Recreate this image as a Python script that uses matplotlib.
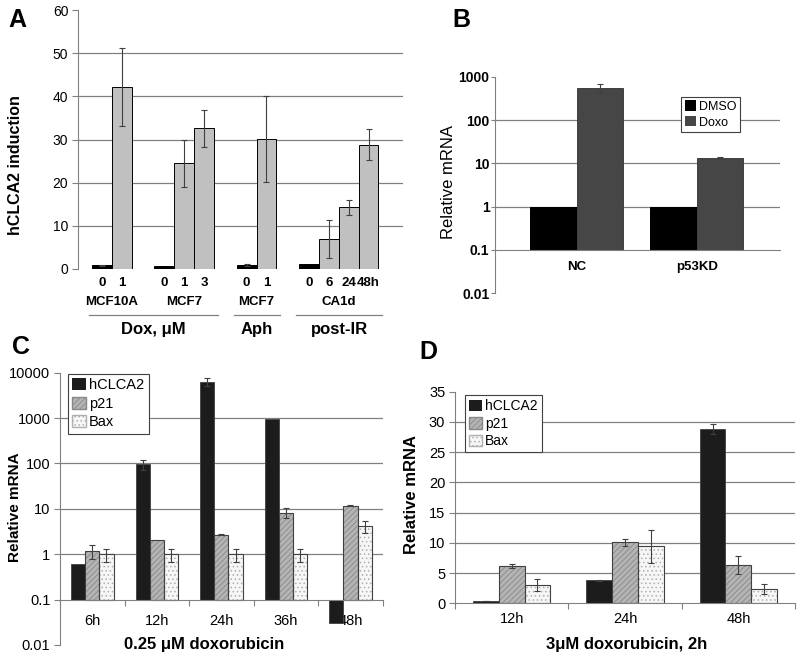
import matplotlib
matplotlib.use('Agg')
import matplotlib.pyplot as plt
import matplotlib.transforms as mtransforms
from matplotlib.patches import Patch
from matplotlib.ticker import NullLocator
import numpy as np

plt.rcParams['font.family'] = ['Liberation Sans', 'DejaVu Sans']
plt.rcParams['hatch.linewidth'] = 0.6

# ----- Panel A: hCLCA2 induction -----
a_groups = ['MCF10A', 'MCF7', 'MCF7', 'CA1d']
a_group_sizes = [2, 3, 2, 4]
a_ticks = ['0', '1', '0', '1', '3', '0', '1', '0', '6', '24', '48h']
a_values = [0.9, 42.1, 0.8, 24.5, 32.6, 0.9, 30.1, 1.1, 7.0, 14.3, 28.8]
a_errors = [0.1, 9.0, 0.0, 5.5, 4.3, 0.2, 10.0, 0.0, 4.4, 1.7, 3.6]
a_treatments = ['Dox, μM', 'Aph', 'post-IR']
a_treatment_groups = [[0, 1], [2], [3]]

# ----- Panel B: NC vs p53KD -----
b_categories = ['NC', 'p53KD']
b_dmso = [1.0, 1.0]
b_doxo = [550, 13.5]
b_doxo_err = [125, 0.8]

# ----- Panel C: 0.25 uM doxorubicin time course -----
c_times = ['6h', '12h', '24h', '36h', '48h']
c_hclca2 = [0.6, 97, 6300, 950, 0.03]
c_hclca2_err = [0, 25, 1200, 0, 0]
c_p21 = [1.2, 2.1, 2.7, 8.3, 11.8]
c_p21_err = [0.4, 0, 0.05, 2.1, 0.5]
c_bax = [1.0, 1.0, 1.0, 1.0, 4.1]
c_bax_err = [0.33, 0.33, 0.33, 0.33, 1.2]

# ----- Panel D: 3 uM doxorubicin, 2h -----
d_times = ['12h', '24h', '48h']
d_hclca2 = [0.4, 3.8, 28.8]
d_hclca2_err = [0.05, 0.1, 0.8]
d_p21 = [6.2, 10.1, 6.4]
d_p21_err = [0.3, 0.6, 1.5]
d_bax = [3.0, 9.4, 2.4]
d_bax_err = [1.0, 2.7, 0.8]

W, H = 800, 660
GRID = '#808080'
EDGE = '#404040'
HCLCA2_COL = '#1c1c1c'
P21_COL = '#b4b4b4'
BAX_COL = '#f6f6f6'

fig = plt.figure(figsize=(8, 6.6), dpi=100)


def px_axes(x0, y0, x1, y1):
    return fig.add_axes([x0 / W, 1 - y1 / H, (x1 - x0) / W, (y1 - y0) / H])


def figtext(x, y, s, **kw):
    fig.text(x / W, 1 - y / H, s, ha='center', va='center', **kw)


def hatched_bars(ax, x, heights, width, bottom, face, hatch, hatch_col):
    ax.bar(x, heights, width, bottom=bottom, color=face, hatch=hatch,
           edgecolor=hatch_col, linewidth=0, zorder=2)
    ax.bar(x, heights, width, bottom=bottom, fill=False,
           edgecolor=EDGE, linewidth=0.8, zorder=2.1)


def err(ax, x, y, e):
    x = np.asarray(x, float); y = np.asarray(y, float); e = np.asarray(e, float)
    m = e > 0
    ax.errorbar(x[m], y[m], yerr=e[m], fmt='none', ecolor=EDGE,
                elinewidth=0.8, capsize=2, capthick=0.8, zorder=3)


def style_axes(ax, grid_vals):
    for s in ['top', 'right']:
        ax.spines[s].set_visible(False)
    ax.spines['left'].set_color(GRID)
    ax.spines['bottom'].set_color(GRID)
    for v in grid_vals:
        ax.axhline(v, color=GRID, lw=0.9, zorder=1)
    ax.tick_params(axis='y', colors=GRID, length=4, width=0.8)
    ax.tick_params(axis='y', labelcolor='black')


def legend(ax, handles, labels, x, y, size, spacing=0.2):
    ax.legend(handles, labels, loc='upper left',
              bbox_to_anchor=(x / W, 1 - y / H), bbox_transform=fig.transFigure,
              fontsize=size, handlelength=0.9, handleheight=0.9,
              handletextpad=0.25, borderpad=0.3, labelspacing=spacing,
              borderaxespad=0, fancybox=False, framealpha=1,
              edgecolor=EDGE).get_frame().set_linewidth(0.8)


''' ----- Panel A ----- '''
axA = px_axes(78, 10, 403, 269)
pos = []
firsts = []
start = 1.21
for n in a_group_sizes:
    firsts.append(len(pos))
    for k in range(n):
        pos.append(start + k)
    start += n + 1.15
cols = ['black' if i in firsts else '#c0c0c0' for i in range(len(pos))]
axA.bar(pos, a_values, 1.0, color=cols, edgecolor='black', linewidth=0.7, zorder=2)
err(axA, pos, a_values, a_errors)
style_axes(axA, [10, 20, 30, 40, 50])
axA.spines['bottom'].set_visible(False)
axA.set_xlim(0, 16.4)
axA.set_ylim(0, 60)
axA.set_yticks(range(0, 70, 10))
axA.tick_params(axis='y', labelsize=10, pad=3)
axA.set_xticks(pos)
axA.set_xticklabels(a_ticks, fontsize=9.5, fontweight='bold')
axA.tick_params(axis='x', length=0, pad=6)

trans = mtransforms.blended_transform_factory(axA.transData, axA.transAxes)
idx = 0
group_edges = []
for name, n in zip(a_groups, a_group_sizes):
    g = pos[idx:idx + n]
    axA.text(np.mean(g), -0.128, name, transform=trans, ha='center', va='center',
             fontsize=9.5, fontweight='bold')
    group_edges.append((g[0] - 0.5, g[-1] + 0.5))
    idx += n
for label, gs in zip(a_treatments, a_treatment_groups):
    x0 = group_edges[gs[0]][0] - 0.15
    x1 = group_edges[gs[-1]][1] + 0.2
    axA.plot([x0, x1], [-0.178, -0.178], transform=trans, color=GRID, lw=0.9, clip_on=False)
    axA.text((x0 + x1) / 2, -0.232, label, transform=trans, ha='center', va='center',
             fontsize=12, fontweight='bold')

figtext(16, 165, 'hCLCA2 induction', rotation=90, fontsize=11.5, fontweight='bold')
figtext(17.5, 20, 'A', fontsize=18, fontweight='bold')

''' ----- Panel B ----- '''
axB = px_axes(495, 76.7, 780, 293.3)
axB.set_yscale('log')
xb = np.arange(len(b_categories))
wb = 0.389
axB.bar(xb - wb / 2, np.array(b_dmso) - 0.1, wb, bottom=0.1, color='black', zorder=2)
axB.bar(xb + wb / 2, np.array(b_doxo) - 0.1, wb, bottom=0.1, color='#464646',
        edgecolor='#303030', linewidth=0.6, zorder=2)
err(axB, xb + wb / 2, b_doxo, b_doxo_err)
style_axes(axB, [1, 10, 100])
axB.spines['bottom'].set_position(('data', 0.1))
axB.set_ylim(0.01, 1000)
axB.set_xlim(-0.681, 1.694)
axB.set_yticks([0.01, 0.1, 1, 10, 100, 1000])
axB.set_yticklabels(['0.01', '0.1', '1', '10', '100', '1000'], fontsize=10, fontweight='bold')
axB.yaxis.set_minor_locator(NullLocator())
axB.tick_params(axis='y', length=3, pad=1)
axB.set_xticks(xb)
axB.set_xticklabels(b_categories, fontsize=9.5, fontweight='bold')
axB.tick_params(axis='x', length=0, pad=8)
legend(axB, [Patch(facecolor='black'), Patch(facecolor='#464646')], ['DMSO', 'Doxo'],
       681, 96.7, 9, spacing=0.25)
figtext(448, 182, 'Relative mRNA', rotation=90, fontsize=12)
figtext(461, 20, 'B', fontsize=18, fontweight='bold')

''' ----- Panel C ----- '''
axC = px_axes(60, 372.7, 382.7, 645)
axC.set_yscale('log')
xc = np.arange(len(c_times))
wc = 0.22
axC.bar(xc - wc, np.array(c_hclca2) - 0.1, wc, bottom=0.1, color=HCLCA2_COL,
        edgecolor=EDGE, linewidth=0.6, zorder=2)
hatched_bars(axC, xc, np.array(c_p21) - 0.1, wc, 0.1, P21_COL, '//////', '#888888')
hatched_bars(axC, xc + wc, np.array(c_bax) - 0.1, wc, 0.1, BAX_COL, '....', '#b0b0b0')
err(axC, xc - wc, c_hclca2, c_hclca2_err)
err(axC, xc, c_p21, c_p21_err)
err(axC, xc + wc, c_bax, c_bax_err)
style_axes(axC, [1, 10, 100, 1000])
axC.spines['bottom'].set_position(('data', 0.1))
axC.set_ylim(0.01, 10000)
axC.set_xlim(-0.5, len(c_times) - 0.5)
axC.set_yticks([0.01, 0.1, 1, 10, 100, 1000, 10000])
axC.set_yticklabels(['0.01', '0.1', '1', '10', '100', '1000', '10000'], fontsize=10.5)
axC.yaxis.set_minor_locator(NullLocator())
axC.tick_params(axis='y', pad=3)
axC.set_xticks(xc)
axC.set_xticklabels(c_times, fontsize=10.5)
axC.set_xticks(np.arange(len(c_times) + 1) - 0.5, minor=True)
axC.tick_params(axis='x', which='major', length=0, pad=10)
axC.tick_params(axis='x', which='minor', length=4, color=GRID, width=0.8)
legend(axC, [Patch(facecolor=HCLCA2_COL),
             Patch(facecolor=P21_COL, hatch='//////', edgecolor='#888888'),
             Patch(facecolor=BAX_COL, hatch='....', edgecolor='#b0b0b0')],
       ['hCLCA2', 'p21', 'Bax'], 68, 374, 10.5, spacing=0.3)
figtext(15, 507, 'Relative mRNA', rotation=90, fontsize=11, fontweight='bold')
figtext(204, 645, '0.25 μM doxorubicin', fontsize=12, fontweight='bold')
figtext(21, 347, 'C', fontsize=18, fontweight='bold')

''' ----- Panel D ----- '''
axD = px_axes(455, 391.7, 795, 603.3)
xd = np.arange(len(d_times))
wd = 0.227
axD.bar(xd - wd, d_hclca2, wd, color=HCLCA2_COL, edgecolor=EDGE, linewidth=0.6, zorder=2)
hatched_bars(axD, xd, d_p21, wd, 0, P21_COL, '//////', '#888888')
hatched_bars(axD, xd + wd, d_bax, wd, 0, BAX_COL, '....', '#b0b0b0')
err(axD, xd - wd, d_hclca2, d_hclca2_err)
err(axD, xd, d_p21, d_p21_err)
err(axD, xd + wd, d_bax, d_bax_err)
style_axes(axD, [5, 10, 15, 20, 25, 30])
axD.set_ylim(0, 35)
axD.set_xlim(-0.5, len(d_times) - 0.5)
axD.set_yticks(range(0, 40, 5))
axD.tick_params(axis='y', labelsize=10.5, pad=3)
axD.set_xticks(xd)
axD.set_xticklabels(d_times, fontsize=10.5)
axD.set_xticks(np.arange(len(d_times) + 1) - 0.5, minor=True)
axD.tick_params(axis='x', which='major', length=0, pad=6)
axD.tick_params(axis='x', which='minor', length=4, color=GRID, width=0.8)
legend(axD, [Patch(facecolor=HCLCA2_COL),
             Patch(facecolor=P21_COL, hatch='//////', edgecolor='#888888'),
             Patch(facecolor=BAX_COL, hatch='....', edgecolor='#b0b0b0')],
       ['hCLCA2', 'p21', 'Bax'], 465, 395, 10, spacing=0.25)
figtext(412, 495, 'Relative mRNA', rotation=90, fontsize=12, fontweight='bold')
figtext(627, 645, '3μM doxorubicin, 2h', fontsize=12, fontweight='bold')
figtext(428, 352, 'D', fontsize=18, fontweight='bold')

plt.savefig('out.png', dpi=100)
